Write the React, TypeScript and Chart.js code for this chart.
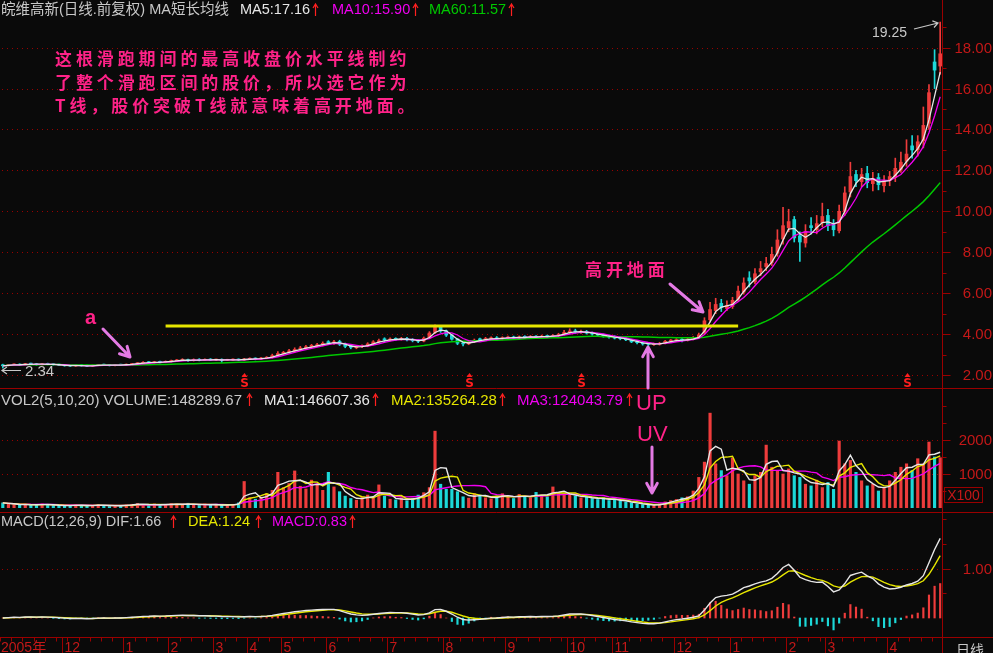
import React, { useEffect, useRef } from "react";
import { Chart, registerables } from "chart.js";

Chart.register(...registerables);

// ---------------- data (each bar ≈ 2 trading days) ----------------
const OPEN = [
  2.50, 2.46, 2.49, 2.53, 2.49, 2.56, 2.54, 2.50, 2.56, 2.53,
  2.51, 2.49, 2.46, 2.44, 2.48, 2.46, 2.43, 2.47, 2.51, 2.49,
  2.46, 2.51, 2.48, 2.51, 2.55, 2.57, 2.63, 2.60, 2.65, 2.62,
  2.66, 2.69, 2.71, 2.75, 2.70, 2.76, 2.72, 2.77, 2.73, 2.76,
  2.72, 2.73, 2.77, 2.73, 2.77, 2.81, 2.78, 2.82, 2.86, 2.96,
  3.06, 3.12, 3.17, 3.27, 3.30, 3.40, 3.43, 3.47, 3.60, 3.57,
  3.64, 3.52, 3.42, 3.33, 3.39, 3.42, 3.52, 3.63, 3.74, 3.70,
  3.77, 3.73, 3.79, 3.73, 3.69, 3.66, 3.82, 4.08, 4.35, 4.16,
  3.96, 3.76, 3.57, 3.52, 3.63, 3.75, 3.72, 3.77, 3.82, 3.76,
  3.81, 3.86, 3.80, 3.87, 3.83, 3.89, 3.85, 3.91, 3.87, 3.92,
  3.98, 4.07, 4.16, 4.09, 4.13, 4.06, 3.99, 3.96, 3.89, 3.86,
  3.81, 3.77, 3.71, 3.63, 3.57, 3.53, 3.48, 3.50, 3.56, 3.66,
  3.68, 3.74, 3.70, 3.75, 3.83, 4.05, 4.70, 5.15, 5.50, 5.25,
  5.35, 5.70, 6.05, 6.75, 6.55, 7.05, 7.30, 7.50, 7.95, 8.65,
  9.20, 9.60, 8.80, 8.45, 9.30, 9.10, 9.45, 9.80, 9.35, 9.05,
  10.00, 10.95, 11.80, 11.45, 11.85, 11.35, 11.65, 11.25, 11.50, 11.65,
  12.05, 12.45, 13.20, 13.00, 13.45, 14.30, 17.30, 17.10,
];
const HIGH = [
  2.53, 2.52, 2.54, 2.55, 2.57, 2.58, 2.56, 2.57, 2.58, 2.55,
  2.53, 2.51, 2.48, 2.49, 2.50, 2.48, 2.49, 2.52, 2.53, 2.51,
  2.52, 2.53, 2.54, 2.57, 2.61, 2.65, 2.66, 2.67, 2.68, 2.69,
  2.73, 2.76, 2.80, 2.78, 2.79, 2.80, 2.79, 2.80, 2.78, 2.79,
  2.77, 2.79, 2.79, 2.82, 2.84, 2.84, 2.86, 2.90, 3.02, 3.15,
  3.16, 3.26, 3.33, 3.40, 3.45, 3.50, 3.55, 3.62, 3.68, 3.70,
  3.70, 3.56, 3.48, 3.44, 3.48, 3.58, 3.68, 3.75, 3.82, 3.82,
  3.82, 3.84, 3.84, 3.78, 3.74, 3.86, 4.12, 4.45, 4.42, 4.20,
  3.98, 3.78, 3.62, 3.68, 3.76, 3.80, 3.84, 3.86, 3.88, 3.87,
  3.90, 3.90, 3.91, 3.92, 3.93, 3.93, 3.95, 3.95, 3.97, 4.04,
  4.18, 4.26, 4.24, 4.20, 4.18, 4.10, 4.04, 4.00, 3.95, 3.92,
  3.86, 3.82, 3.75, 3.68, 3.62, 3.58, 3.56, 3.60, 3.70, 3.74,
  3.78, 3.78, 3.80, 3.88, 4.05, 4.80, 5.55, 5.75, 5.70, 5.62,
  5.80, 6.35, 6.75, 7.05, 7.20, 7.55, 7.75, 8.25, 9.10, 10.20,
  10.10, 9.75, 9.00, 9.35, 9.70, 9.80, 10.40, 10.10, 9.60, 10.30,
  11.20, 12.40, 12.00, 12.10, 12.20, 11.90, 11.85, 11.75, 11.95, 12.60,
  12.90, 13.50, 13.70, 13.70, 15.10, 16.20, 17.90, 19.25,
];
const LOW = [
  2.34, 2.44, 2.47, 2.46, 2.48, 2.51, 2.48, 2.49, 2.50, 2.48,
  2.46, 2.43, 2.42, 2.42, 2.43, 2.41, 2.42, 2.45, 2.46, 2.44,
  2.44, 2.46, 2.46, 2.49, 2.53, 2.55, 2.57, 2.58, 2.59, 2.60,
  2.64, 2.67, 2.69, 2.66, 2.68, 2.69, 2.70, 2.70, 2.70, 2.62,
  2.70, 2.71, 2.70, 2.71, 2.75, 2.74, 2.75, 2.79, 2.83, 2.92,
  3.02, 3.08, 3.13, 3.20, 3.25, 3.33, 3.38, 3.42, 3.50, 3.50,
  3.44, 3.33, 3.28, 3.28, 3.34, 3.38, 3.48, 3.57, 3.64, 3.66,
  3.68, 3.70, 3.66, 3.62, 3.58, 3.62, 3.78, 4.02, 4.08, 3.88,
  3.70, 3.48, 3.42, 3.48, 3.58, 3.66, 3.68, 3.72, 3.70, 3.72,
  3.76, 3.75, 3.77, 3.79, 3.80, 3.81, 3.82, 3.84, 3.84, 3.88,
  3.95, 4.02, 4.04, 4.03, 4.00, 3.94, 3.90, 3.85, 3.80, 3.76,
  3.72, 3.68, 3.58, 3.52, 3.46, 3.44, 3.44, 3.46, 3.52, 3.60,
  3.64, 3.62, 3.66, 3.72, 3.80, 4.00, 4.60, 5.00, 5.10, 5.15,
  5.25, 5.60, 5.95, 6.30, 6.45, 6.85, 7.10, 7.35, 7.80, 8.40,
  9.00, 8.50, 7.55, 8.25, 8.90, 8.90, 9.25, 9.05, 8.80, 8.95,
  9.80, 10.70, 11.20, 11.20, 11.15, 11.00, 11.05, 10.95, 11.25, 11.45,
  11.90, 12.20, 12.60, 12.70, 13.10, 14.00, 16.00, 16.70,
];
const CLOSE = [
  2.45, 2.50, 2.52, 2.48, 2.55, 2.53, 2.50, 2.55, 2.52, 2.50,
  2.48, 2.45, 2.44, 2.47, 2.45, 2.43, 2.47, 2.50, 2.48, 2.46,
  2.50, 2.48, 2.52, 2.55, 2.58, 2.62, 2.60, 2.64, 2.62, 2.66,
  2.70, 2.72, 2.74, 2.70, 2.75, 2.72, 2.76, 2.73, 2.75, 2.72,
  2.74, 2.76, 2.73, 2.78, 2.80, 2.78, 2.82, 2.86, 2.95, 3.05,
  3.10, 3.18, 3.25, 3.30, 3.38, 3.42, 3.48, 3.55, 3.58, 3.62,
  3.50, 3.40, 3.35, 3.38, 3.42, 3.52, 3.62, 3.68, 3.72, 3.76,
  3.74, 3.78, 3.72, 3.68, 3.65, 3.80, 4.05, 4.38, 4.15, 3.95,
  3.75, 3.55, 3.52, 3.62, 3.70, 3.72, 3.78, 3.80, 3.76, 3.82,
  3.85, 3.80, 3.86, 3.84, 3.88, 3.85, 3.90, 3.88, 3.92, 3.98,
  4.08, 4.15, 4.10, 4.12, 4.05, 4.00, 3.95, 3.90, 3.85, 3.80,
  3.78, 3.72, 3.62, 3.58, 3.52, 3.50, 3.50, 3.55, 3.65, 3.68,
  3.72, 3.70, 3.75, 3.82, 3.95, 4.65, 5.20, 5.45, 5.30, 5.40,
  5.65, 6.10, 6.50, 6.60, 6.95, 7.20, 7.45, 7.90, 8.60, 9.30,
  9.50, 8.70, 8.50, 9.00, 9.20, 9.40, 9.75, 9.30, 9.10, 10.00,
  10.90, 11.70, 11.50, 11.80, 11.40, 11.60, 11.30, 11.50, 11.70, 12.10,
  12.40, 12.80, 13.00, 13.40, 14.20, 15.80, 16.90, 17.70,
];
// volume, in units of x100 shares (axis shows "X100")
const VOLUME = [
  150, 120, 100, 90, 110, 80, 100, 120, 90, 80,
  70, 60, 80, 90, 70, 60, 80, 100, 70, 60,
  80, 60, 90, 110, 130, 100, 80, 120, 90, 100,
  130, 110, 90, 140, 100, 80, 120, 90, 100, 80,
  90, 110, 150, 780, 300, 260, 320, 420, 520, 1050,
  600, 720, 1090, 640, 560, 820, 700, 520, 1050, 620,
  480, 350, 280, 230, 320, 380, 290, 680, 350, 260,
  240, 300, 210, 280, 380, 450, 600, 2260, 700, 550,
  550, 480, 330, 290, 420, 380, 300, 270, 350, 420,
  320, 280, 400, 350, 300, 460, 380, 330, 620, 450,
  420, 380, 350, 300, 330, 280, 250, 300, 220, 260,
  200, 180, 150, 120, 100, 90, 80, 120, 180, 220,
  250, 300, 330, 500, 900, 1350, 2790, 1300, 1100, 950,
  1470, 1000, 800, 700, 950, 1050, 1850, 1200, 1100, 1000,
  1150, 950, 900, 700, 650, 820, 600, 750, 550, 1970,
  1300, 1400, 1050, 800, 650, 700, 500, 600, 800, 1050,
  1200, 1300, 1100, 1450, 1300, 1940, 1500, 1480,
];

const YEAR_LABEL = "2005年";
const MONTH_LABELS = ["12", "1", "2", "3", "4", "5", "6", "7", "8", "9", "10", "11", "12", "1", "2", "3", "4"];
const MONTH_START_BAR = [11, 22, 30, 38, 44, 50, 58, 69, 79, 90, 101, 109, 120, 130, 140, 147, 158];
const EVENT_BARS = [43, 83, 103, 161];

const T_LINE_LEVEL = 4.39;
const T_LINE_FROM = 29;
const T_LINE_TO = 131;

const PRICE_TICKS = [2, 4, 6, 8, 10, 12, 14, 16, 18];
const PRICE_MINOR = [3, 5, 7, 9, 11, 13, 15, 17, 19];
const VOLUME_TICKS = [1000, 2000];
const VOLUME_MINOR = [500, 1500, 2500, 3000];
const MACD_TICKS = [1];
const MACD_MINOR = [0.5, 1.5, 2];

const MA_DAYS = [5, 10, 60];
const VOL_MA_DAYS = [5, 10, 20];
const MACD_PARAMS = [12, 26, 9];
const DAYS_PER_BAR = 2;

const PRICE_HEADER = ["皖维高新(日线.前复权) MA短长均线", "MA5:17.16", "MA10:15.90", "MA60:11.57"];
const VOL_HEADER = ["VOL2(5,10,20) VOLUME:148289.67", "MA1:146607.36", "MA2:135264.28", "MA3:124043.79"];
const MACD_HEADER = ["MACD(12,26,9) DIF:1.66", "DEA:1.24", "MACD:0.83"];
const NOTE_LINES = [
  "这根滑跑期间的最高收盘价水平线制约",
  "了整个滑跑区间的股价，所以选它作为",
  "T线，股价突破T线就意味着高开地面。",
];
const NOTE_TAKEOFF = "高开地面";
const HIGH_LABEL = "19.25";
const LOW_LABEL = "2.34";

// ---------------- styles ----------------
const BG = "#0a0a0a";
const UP = "#ee3c3c";
const DOWN = "#1cd8d8";
const AXIS = "#9a0000";
const LABEL = "#c41818";
const WHITE = "#e6e6e6";
const GREY = "#c8c8c8";
const MAGENTA = "#f000f0";
const YELLOW = "#e6e600";
const GREEN = "#00c800";
const PINK = "#ff2288";
const ORCHID = "#e47ae4";
const FONT = '"Liberation Sans", "Noto Sans CJK SC", sans-serif';

// ---------------- derived indicators ----------------
const N = CLOSE.length;
const LABELS = CLOSE.map((_, i) => String(i));
const barsFor = (days: number) => Math.max(1, Math.round(days / DAYS_PER_BAR));
function sma(src: number[], n: number): number[] {
  return src.map((_, i) => {
    const from = Math.max(0, i - n + 1);
    let s = 0;
    for (let k = from; k <= i; k++) s += src[k];
    return s / (i - from + 1);
  });
}
function ema(src: number[], alpha: number): number[] {
  const out: number[] = [];
  src.forEach((v, i) => out.push(i === 0 ? v : out[i - 1] + alpha * (v - out[i - 1])));
  return out;
}
const alphaFor = (n: number) => 1 - Math.pow(1 - 2 / (n + 1), DAYS_PER_BAR);

const isUp = CLOSE.map((c, i) => c >= OPEN[i]);
const barColors = isUp.map((u) => (u ? UP : DOWN));
const MA = MA_DAYS.map((d) => sma(CLOSE, barsFor(d)));
const VMA = VOL_MA_DAYS.map((d) => sma(VOLUME, barsFor(d)));
const emaFast = ema(CLOSE, alphaFor(MACD_PARAMS[0]));
const emaSlow = ema(CLOSE, alphaFor(MACD_PARAMS[1]));
const DIF = emaFast.map((v, i) => v - emaSlow[i]);
const DEA = ema(DIF, alphaFor(MACD_PARAMS[2]));
const HIST = DIF.map((v, i) => 2 * (v - DEA[i]));
const T_LINE = CLOSE.map((_, i) => (i >= T_LINE_FROM && i <= T_LINE_TO ? T_LINE_LEVEL : null));

// ---------------- plugins ----------------
function rightAxis(major: number[], minor: number[], fmt: (v: number) => string) {
  return {
    id: "rightAxis",
    beforeDatasetsDraw(chart: any) {
      const { ctx, chartArea, scales } = chart;
      ctx.save();
      ctx.fillStyle = AXIS;
      for (const v of major) {
        const py = Math.round(scales.y.getPixelForValue(v));
        for (let px = 2; px < chartArea.right - 2; px += 5) ctx.fillRect(px, py, 1, 1);
      }
      ctx.restore();
    },
    afterDraw(chart: any) {
      const { ctx, chartArea, scales, width, height } = chart;
      const ax = Math.round(chartArea.right) - 0.5;
      ctx.save();
      ctx.strokeStyle = AXIS;
      ctx.lineWidth = 1;
      ctx.beginPath();
      ctx.moveTo(ax, 0);
      ctx.lineTo(ax, height);
      ctx.stroke();
      ctx.beginPath();
      for (const v of major) {
        const py = Math.round(scales.y.getPixelForValue(v)) + 0.5;
        ctx.moveTo(ax, py);
        ctx.lineTo(ax + 8, py);
      }
      for (const v of minor) {
        const py = Math.round(scales.y.getPixelForValue(v)) + 0.5;
        if (py < 1 || py > height - 2) continue;
        ctx.moveTo(ax, py);
        ctx.lineTo(ax + 4, py);
      }
      ctx.stroke();
      ctx.fillStyle = LABEL;
      ctx.font = '15px "Liberation Sans", sans-serif';
      ctx.textAlign = "right";
      ctx.textBaseline = "middle";
      for (const v of major) {
        ctx.fillText(fmt(v), width - 1, Math.round(scales.y.getPixelForValue(v)) + 1);
      }
      ctx.restore();
    },
  };
}

const bottomSeparator = {
  id: "separator",
  afterDraw(chart: any) {
    const { ctx, width, height } = chart;
    ctx.save();
    ctx.strokeStyle = AXIS;
    ctx.lineWidth = 1;
    ctx.beginPath();
    ctx.moveTo(0, height - 0.5);
    ctx.lineTo(width, height - 0.5);
    ctx.stroke();
    ctx.restore();
  },
};

const eventMarkers = {
  id: "eventMarkers",
  afterDatasetsDraw(chart: any) {
    const { ctx, scales, chartArea } = chart;
    ctx.save();
    ctx.fillStyle = "#ff1e1e";
    ctx.font = 'bold 12px "DejaVu Sans", sans-serif';
    ctx.textAlign = "center";
    ctx.textBaseline = "alphabetic";
    const b = chartArea.bottom;
    for (const i of EVENT_BARS) {
      const x = Math.round(scales.x.getPixelForValue(i)) + 0.5;
      ctx.beginPath();
      ctx.moveTo(x - 3, b - 11);
      ctx.lineTo(x, b - 15);
      ctx.lineTo(x + 3, b - 11);
      ctx.closePath();
      ctx.fill();
      ctx.fillText("S", x, b - 1);
    }
    ctx.restore();
  },
};

const dateAxis = {
  id: "dateAxis",
  afterDraw(chart: any) {
    const { ctx, chartArea, scales, height } = chart;
    const x = scales.x;
    const w = x.getPixelForValue(1) - x.getPixelForValue(0);
    const edge = (i: number) => Math.round(x.getPixelForValue(i) - w / 2) + 0.5;
    const top = Math.round(chartArea.bottom) + 0.5;
    const right = Math.round(chartArea.right);
    ctx.save();
    ctx.strokeStyle = AXIS;
    ctx.lineWidth = 1;
    ctx.beginPath();
    ctx.moveTo(0, top);
    ctx.lineTo(chart.width, top);
    for (let i = 0; i < N; i += 2) {
      ctx.moveTo(edge(i), top);
      ctx.lineTo(edge(i), top + 4);
    }
    for (const i of MONTH_START_BAR) {
      ctx.moveTo(edge(i), top);
      ctx.lineTo(edge(i), height);
    }
    ctx.moveTo(right - 0.5, top);
    ctx.lineTo(right - 0.5, height);
    ctx.stroke();
    ctx.fillStyle = LABEL;
    ctx.font = '14px "Liberation Sans", "Noto Sans CJK SC", sans-serif';
    ctx.textAlign = "left";
    ctx.textBaseline = "alphabetic";
    ctx.fillText(YEAR_LABEL, 1, height - 1);
    MONTH_START_BAR.forEach((i, k) => ctx.fillText(MONTH_LABELS[k], edge(i) + 2, height - 1));
    ctx.fillStyle = GREY;
    ctx.font = '14px "Noto Sans CJK SC", sans-serif';
    ctx.fillText("日线", right + 13, height + 2);
    ctx.restore();
  },
};

// ---------------- chart configs ----------------
const lineDs = (label: string, data: any[], color: string, width = 1.3, order = 1) => ({
  type: "line",
  label,
  data,
  borderColor: color,
  backgroundColor: color,
  borderWidth: width,
  pointRadius: 0,
  tension: 0,
  fill: false,
  spanGaps: false,
  order,
});

const baseOptions = (top: number, bottom: number, min: number, max: number) => ({
  animation: false,
  responsive: false,
  maintainAspectRatio: false,
  devicePixelRatio: 1,
  events: [],
  layout: { padding: { top, bottom, left: 0, right: 50 } },
  plugins: { legend: { display: false }, tooltip: { enabled: false } },
  scales: {
    x: { type: "category", display: false, offset: true },
    y: { type: "linear", display: false, min, max },
  },
});

function priceConfig(): any {
  return {
    type: "bar",
    data: {
      labels: LABELS,
      datasets: [
        lineDs("T线", T_LINE, YELLOW, 3, 0),
        lineDs("MA5", MA[0], WHITE),
        lineDs("MA10", MA[1], MAGENTA),
        lineDs("MA60", MA[2], GREEN, 1.5),
        {
          type: "bar",
          label: "body",
          data: OPEN.map((o, i) => [o, CLOSE[i]]),
          backgroundColor: barColors,
          barThickness: 3,
          minBarLength: 1,
          grouped: false,
          borderWidth: 0,
          order: 2,
        },
        {
          type: "bar",
          label: "wick",
          data: LOW.map((l, i) => [l, HIGH[i]]),
          backgroundColor: barColors,
          barThickness: 1,
          grouped: false,
          borderWidth: 0,
          order: 3,
        },
      ],
    },
    options: baseOptions(20, 1, 1.3646, 19.351),
    plugins: [rightAxis(PRICE_TICKS, PRICE_MINOR, (v) => v.toFixed(2)), eventMarkers, bottomSeparator],
  };
}

function volumeConfig(): any {
  return {
    type: "bar",
    data: {
      labels: LABELS,
      datasets: [
        lineDs("MA1", VMA[0], WHITE, 1.4, 0),
        lineDs("MA2", VMA[1], YELLOW, 1.4, 0),
        lineDs("MA3", VMA[2], MAGENTA, 1.4, 0),
        {
          type: "bar",
          label: "VOLUME",
          data: VOLUME,
          backgroundColor: barColors,
          barThickness: 2.5,
          grouped: false,
          borderWidth: 0,
          order: 1,
        },
      ],
    },
    options: baseOptions(1, 5, 0, 3470.6),
    plugins: [rightAxis(VOLUME_TICKS, VOLUME_MINOR, (v) => String(v)), bottomSeparator],
  };
}

function macdConfig(): any {
  return {
    type: "bar",
    data: {
      labels: LABELS,
      datasets: [
        lineDs("DIF", DIF, WHITE, 1.4, 0),
        lineDs("DEA", DEA, YELLOW, 1.4, 0),
        {
          type: "bar",
          label: "MACD",
          data: HIST,
          backgroundColor: HIST.map((v) => (v >= 0 ? UP : DOWN)),
          barThickness: 1.5,
          grouped: false,
          borderWidth: 0,
          order: 1,
        },
      ],
    },
    options: baseOptions(1, 16, -0.3838, 2.101),
    plugins: [rightAxis(MACD_TICKS, MACD_MINOR, (v) => v.toFixed(2)), dateAxis],
  };
}

// ---------------- overlay helpers ----------------
function arrowPath(x1: number, y1: number, x2: number, y2: number, len = 11, ang = 0.5) {
  const a = Math.atan2(y2 - y1, x2 - x1);
  const p1x = x2 - len * Math.cos(a - ang);
  const p1y = y2 - len * Math.sin(a - ang);
  const p2x = x2 - len * Math.cos(a + ang);
  const p2y = y2 - len * Math.sin(a + ang);
  return `M${x1},${y1} L${x2},${y2} M${p1x},${p1y} L${x2},${y2} L${p2x},${p2y}`;
}

function UpTick({ left, top }: { left: number; top: number }) {
  return (
    <svg width={7} height={15} style={{ position: "absolute", left: left - 3.5, top }}>
      <path d="M3.5,2 L3.5,14 M1,6 L3.5,2 L6,6" stroke="#ff2020" strokeWidth={1.2} fill="none" />
    </svg>
  );
}

function Header({ top, texts, lefts, colors, ticks, size }: { top: number; texts: string[]; lefts: number[]; colors: string[]; ticks: number[]; size: number }) {
  return (
    <>
      {texts.map((t, i) => (
        <div
          key={i}
          style={{
            position: "absolute",
            left: lefts[i],
            top,
            height: 17,
            lineHeight: "17px",
            fontSize: size,
            fontFamily: FONT,
            color: colors[i],
            whiteSpace: "nowrap",
          }}
        >
          {t}
        </div>
      ))}
      {ticks.map((x, i) => (
        <UpTick key={"t" + i} left={x} top={top + 1} />
      ))}
    </>
  );
}

export default function App() {
  const priceRef = useRef<HTMLCanvasElement>(null);
  const volRef = useRef<HTMLCanvasElement>(null);
  const macdRef = useRef<HTMLCanvasElement>(null);

  useEffect(() => {
    const charts = [
      new Chart(priceRef.current as HTMLCanvasElement, priceConfig()),
      new Chart(volRef.current as HTMLCanvasElement, volumeConfig()),
      new Chart(macdRef.current as HTMLCanvasElement, macdConfig()),
    ];
    return () => charts.forEach((c) => c.destroy());
  }, []);

  const noteStyle: any = {
    position: "absolute",
    color: PINK,
    fontFamily: '"Noto Sans CJK SC", sans-serif',
    fontWeight: 700,
    fontSize: 17,
    letterSpacing: "3.9px",
    whiteSpace: "nowrap",
  };

  return (
    <div style={{ position: "fixed", left: 0, top: 0, width: 993, height: 653, background: BG, overflow: "hidden" }}>
      <canvas ref={priceRef} width={993} height={389} style={{ position: "absolute", left: 0, top: 0 }} />
      <canvas ref={volRef} width={993} height={124} style={{ position: "absolute", left: 0, top: 389 }} />
      <canvas ref={macdRef} width={993} height={140} style={{ position: "absolute", left: 0, top: 513 }} />

      <Header top={0.5} size={14.5} texts={PRICE_HEADER} lefts={[1, 240, 332, 429]} colors={[GREY, WHITE, MAGENTA, GREEN]} ticks={[315, 415, 511]} />
      <Header top={390.5} size={15} texts={VOL_HEADER} lefts={[1, 264, 391, 517]} colors={[GREY, WHITE, YELLOW, MAGENTA]} ticks={[249, 375, 502, 629]} />
      <Header top={513} size={14.5} texts={MACD_HEADER} lefts={[1, 188, 272]} colors={[GREY, YELLOW, MAGENTA]} ticks={[173, 258, 352]} />

      <div
        style={{
          position: "absolute",
          left: 944,
          top: 487,
          width: 37,
          height: 14,
          border: `1px solid ${AXIS}`,
          color: LABEL,
          fontFamily: FONT,
          fontSize: 14,
          lineHeight: "14px",
          textAlign: "center",
        }}
      >
        X100
      </div>

      <div style={{ ...noteStyle, left: 55, top: 46, lineHeight: "23.5px" }}>
        {NOTE_LINES.map((l, i) => (
          <div key={i}>{l}</div>
        ))}
      </div>
      <div style={{ ...noteStyle, left: 585, top: 257, lineHeight: "23px" }}>{NOTE_TAKEOFF}</div>
      <div style={{ ...noteStyle, left: 85, top: 306, fontSize: 20, letterSpacing: 0, lineHeight: "22px", fontFamily: FONT }}>a</div>
      <div style={{ position: "absolute", left: 636, top: 391, fontSize: 22, lineHeight: "24px", color: PINK, fontFamily: FONT }}>UP</div>
      <div style={{ position: "absolute", left: 637, top: 422, fontSize: 22, lineHeight: "24px", color: PINK, fontFamily: FONT }}>UV</div>

      <div style={{ position: "absolute", left: 872, top: 24, fontSize: 14, lineHeight: "16px", color: GREY, fontFamily: FONT }}>{HIGH_LABEL}</div>
      <div style={{ position: "absolute", left: 25, top: 362, fontSize: 15, lineHeight: "17px", color: GREY, fontFamily: FONT }}>{LOW_LABEL}</div>

      <svg width={993} height={653} style={{ position: "absolute", left: 0, top: 0, pointerEvents: "none" }}>
        <g stroke={ORCHID} strokeWidth={3} fill="none" strokeLinecap="round" strokeLinejoin="round">
          <path d={arrowPath(103, 329, 130, 357)} />
          <path d={arrowPath(670, 284, 703, 312)} />
          <path d={arrowPath(648, 388, 648, 347)} />
          <path d={arrowPath(652, 447, 652, 493)} />
        </g>
        <g stroke={GREY} strokeWidth={1.2} fill="none">
          <path d={arrowPath(914, 29, 938, 23, 6, 0.6)} />
          <path d={arrowPath(21, 370.5, 2, 370.5, 6, 0.6)} />
        </g>
      </svg>
    </div>
  );
}
